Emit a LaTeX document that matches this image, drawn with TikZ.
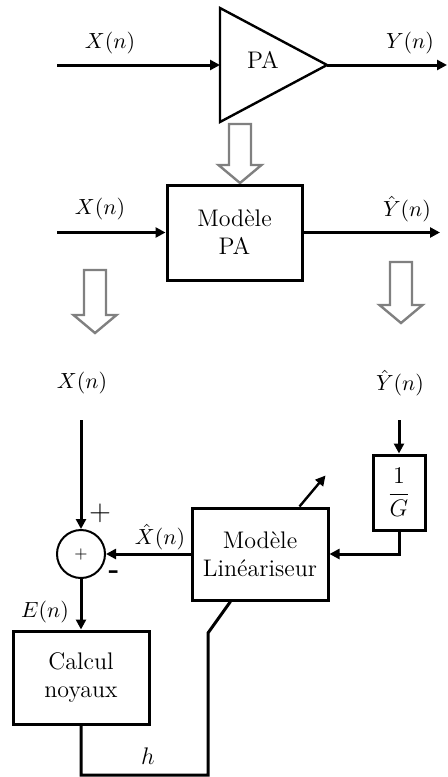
\documentclass[tikz,border=0pt]{standalone}
\usepackage{tikz}
\usetikzlibrary{arrows.meta, positioning, calc}
\usepackage{amsmath, amssymb}

\newcommand{\hollowdown}[3]{%
  \draw[hollow] (#1-11,#2) -- (#1+11,#2) -- (#1+11,#3-18) -- (#1+21.5,#3-18)
    -- (#1,#3) -- (#1-21.5,#3-18) -- (#1-11,#3-18) -- cycle;}

\begin{document}
\begin{tikzpicture}[
    x=0.5pt, y=-0.5pt,
    box/.style={draw, line width=1.5pt, align=center, inner sep=0pt,
                font=\fontsize{12}{14}\selectfont},
    arr/.style={-{Triangle[length=5pt, width=5pt]}, line width=1.5pt},
    wire/.style={line width=1.5pt},
    hollow/.style={draw=gray, fill=white, line width=1.2pt},
    lbl/.style={inner sep=0pt, font=\fontsize{11}{13}\selectfont}
]
    \useasboundingbox (0,0) rectangle (448,777);

    \coordinate (in1) at (57,65);
    \coordinate (paw) at (220,65);
    \coordinate (pae) at (327,65);
    \coordinate (out1) at (447,65);
    \draw[line width=1.2pt] (220,8) -- (pae) -- (220,122) -- cycle;
    \node[font=\fontsize{12}{14}\selectfont] (pa) at (263,60) {PA};
    \draw[arr] (in1) -- (paw);
    \draw[arr] (pae) -- (out1);
    \node[lbl] (x1) at (110,43) {$X(n)$};
    \node[lbl] (y1) at (410,43) {$Y(n)$};

    \hollowdown{240}{124}{183}

    \node[box, minimum width=67.5pt, minimum height=47.5pt] (modpa) at (234.5,232.5) {Modèle\\PA};
    \coordinate (in2) at (57,232.5);
    \coordinate (out2) at (440,232.5);
    \draw[arr] (in2) -- (modpa);
    \draw[arr] (modpa) -- (out2);
    \node[lbl] (x2) at (100,209) {$X(n)$};
    \node[lbl] (y2) at (407,209) {$\hat{Y}(n)$};

    \hollowdown{95}{270}{333}
    \hollowdown{401}{262}{323}

    \node[lbl] (x3) at (82,383) {$X(n)$};
    \node[lbl] (y3) at (400,383) {$\hat{Y}(n)$};
    \coordinate (xsrc) at (81,420);
    \coordinate (ysrc) at (399,420);

    \node[draw, circle, line width=1pt, minimum size=24pt, inner sep=0pt] (sum) at (81,554) {\footnotesize$+$};
    \node[box, minimum width=26pt, minimum height=37.5pt] (inv) at (399,492.5) {$\dfrac{1}{G}$};
    \node[box, minimum width=68pt, minimum height=46pt] (lin) at (260,554) {Modèle\\Linéariseur};
    \node[box, minimum width=68pt, minimum height=46.5pt] (calc) at (81,677.5) {Calcul\\noyaux};

    \draw[arr] (xsrc) -- (sum);
    \draw[arr] (ysrc) -- (inv);
    \draw[arr] (inv.south) |- (lin.east);
    \draw[arr] (lin) -- (sum);
    \draw[arr] (sum) -- (calc);
    \draw[arr, line width=1.2pt] ([xshift=54.5pt]lin.north west) -- ++(26,-31);

    \coordinate (hl) at (81,775);
    \coordinate (hr) at (208,775);
    \coordinate (hk) at (208,633);
    \draw[wire] (calc.south) -- (hl) -- (hr) -- (hk) -- ([xshift=20pt]lin.south west);

    \node[inner sep=0pt, font=\Large] (plus) at (100,513) {$+$};
    \node[inner sep=0pt, font=\Large\bfseries] (minus) at (114,575) {-};
    \node[lbl] (xh) at (160,537) {$\hat{X}(n)$};
    \node[lbl] (en) at (45,612) {$E(n)$};
    \node[inner sep=0pt, font=\fontsize{13}{15}\selectfont] (h) at (148,756) {$h$};
\end{tikzpicture}
\end{document}
